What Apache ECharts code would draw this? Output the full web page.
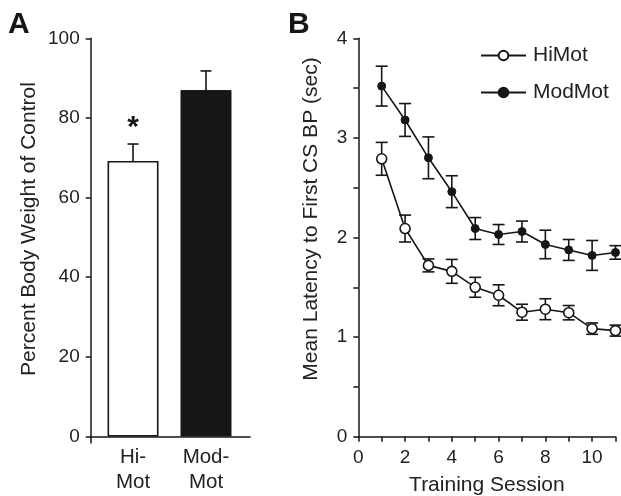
<!DOCTYPE html>
<html>
<head>
<meta charset="utf-8">
<script src="https://cdn.jsdelivr.net/npm/echarts@6/dist/echarts.min.js"></script>
<style>
  html, body { margin: 0; padding: 0; background: #fff; }
  #chart { width: 621px; height: 496px; }
</style>
</head>
<body>
<div id="chart"></div>
<script>
// Panel A: body weight as a percentage of control, mean + SEM
const groupLabels = ['Hi-\nMot', 'Mod-\nMot'];
const weightMeans = [69.2, 87.0];
const weightSem = [4.25, 4.8];
const weightMarks = ['*', ''];
const weightTicks = [0, 20, 40, 60, 80, 100];

// Panel B: latency to the first CS bar press across training sessions
const sessions = [1, 2, 3, 4, 5, 6, 7, 8, 9, 10, 11];
const hiMotLatency = [2.79, 2.09, 1.72, 1.66, 1.50, 1.42, 1.25, 1.28, 1.245, 1.085, 1.065];
const hiMotSem = [0.165, 0.135, 0.065, 0.12, 0.10, 0.105, 0.08, 0.105, 0.072, 0.057, 0.055];
const modMotLatency = [3.52, 3.18, 2.80, 2.46, 2.09, 2.03, 2.06, 1.93, 1.875, 1.82, 1.85];
const modMotSem = [0.20, 0.165, 0.21, 0.16, 0.11, 0.10, 0.105, 0.143, 0.105, 0.15, 0.068];
const sessionTicks = [0, 2, 4, 6, 8, 10];
const latencyTicks = [0, 1, 2, 3, 4];

const weightTitle = 'Percent Body Weight of Control';
const latencyTitle = 'Mean Latency to First CS BP (sec)';

const FONT = '"Liberation Sans", Arial, sans-serif';
const INK = '#161616';
const TEXT = '#222';

// Group slots on panel A's horizontal axis (one unit per group)
const groupSlots = groupLabels.map((_, i) => i);
const slotMin = -0.58;
const slotMax = 1.603;

const chart = echarts.init(document.getElementById('chart'), null, { renderer: 'canvas' });

// Upward-only error bar with cap, plus an optional significance mark (panel A)
function barError(params, api) {
  const slot = api.value(0);
  const mean = api.value(1);
  const sem = api.value(2);
  const base = api.coord([slot, mean]);
  const top = api.coord([slot, mean + sem]);
  const half = 5.5;
  const style = { stroke: INK, lineWidth: 1.6 };
  const children = [
    { type: 'line', shape: { x1: base[0], y1: base[1], x2: top[0], y2: top[1] }, style },
    { type: 'line', shape: { x1: top[0] - half, y1: top[1], x2: top[0] + half, y2: top[1] }, style }
  ];
  const mark = weightMarks[params.dataIndex];
  if (mark) {
    children.push({
      type: 'text',
      style: {
        text: mark, x: top[0], y: top[1] - 1,
        align: 'center', verticalAlign: 'bottom',
        font: 'bold 30px ' + FONT, fill: INK
      }
    });
  }
  return { type: 'group', children };
}

// Symmetric error bar with caps (panel B)
function lineError(params, api) {
  const x = api.value(0);
  const m = api.value(1);
  const e = api.value(2);
  const hi = api.coord([x, m + e]);
  const lo = api.coord([x, m - e]);
  const half = 6;
  const style = { stroke: INK, lineWidth: 1.6 };
  return {
    type: 'group',
    children: [
      { type: 'line', shape: { x1: hi[0], y1: hi[1], x2: lo[0], y2: lo[1] }, style },
      { type: 'line', shape: { x1: hi[0] - half, y1: hi[1], x2: hi[0] + half, y2: hi[1] }, style },
      { type: 'line', shape: { x1: lo[0] - half, y1: lo[1], x2: lo[0] + half, y2: lo[1] }, style }
    ]
  };
}

const axisLine = { show: true, onZero: false, lineStyle: { color: INK, width: 1.5 } };
const axisTick = { show: true, inside: false, length: 5, lineStyle: { color: INK, width: 1.5 } };
const tickLabel = { color: TEXT, fontFamily: FONT, fontSize: 19, lineHeight: 20 };
const nameStyle = { color: TEXT, fontFamily: FONT, fontSize: 21, lineHeight: 24 };

// Rotated y-axis titles
function yTitle(text, cx, cy) {
  return {
    type: 'text',
    x: cx,
    y: cy,
    rotation: Math.PI / 2,
    style: {
      text,
      align: 'center',
      verticalAlign: 'middle',
      font: '21px ' + FONT,
      fill: TEXT
    }
  };
}

const option = {
  backgroundColor: '#fff',
  animation: false,
  textStyle: { fontFamily: FONT },
  title: [
    { text: 'A', left: 8, top: 10, padding: 0, textStyle: { fontFamily: FONT, fontSize: 30, fontWeight: 'bold', color: INK } },
    { text: 'B', left: 288, top: 10, padding: 0, textStyle: { fontFamily: FONT, fontSize: 30, fontWeight: 'bold', color: INK } }
  ],
  legend: {
    data: ['HiMot', 'ModMot'],
    orient: 'vertical',
    left: 480,
    top: 45,
    padding: 0,
    itemWidth: 45,
    itemHeight: 12,
    itemGap: 16,
    textStyle: { color: TEXT, fontFamily: FONT, fontSize: 21, padding: [0, 0, 0, 2] }
  },
  graphic: [
    yTitle(weightTitle, 29, 229),
    yTitle(latencyTitle, 311, 219)
  ],
  grid: [
    { left: 90.7, right: 371, top: 38.3, bottom: 59.5, outerBoundsMode: 'none', containLabel: false },
    { left: 358.3, right: 5.5, top: 38.3, bottom: 59.3, outerBoundsMode: 'none', containLabel: false }
  ],
  xAxis: [
    {
      gridIndex: 0,
      type: 'value',
      min: slotMin,
      max: slotMax,
      axisLine,
      axisTick: { show: true, length: 7, customValues: [slotMin], lineStyle: { color: INK, width: 1.5 } },
      axisLabel: {
        color: TEXT, fontFamily: FONT, fontSize: 20.5, lineHeight: 25, margin: 8,
        customValues: groupSlots,
        formatter: (v) => groupLabels[Math.round(v)] || ''
      },
      splitLine: { show: false }
    },
    {
      gridIndex: 1,
      type: 'value',
      min: 0,
      max: 11,
      interval: 1,
      axisLine,
      axisTick,
      axisLabel: Object.assign({}, tickLabel, {
        margin: 11,
        formatter: (v) => (sessionTicks.includes(v) ? String(v) : '')
      }),
      splitLine: { show: false },
      name: 'Training Session',
      nameLocation: 'middle',
      nameGap: 37,
      nameTextStyle: nameStyle
    }
  ],
  yAxis: [
    {
      gridIndex: 0,
      type: 'value',
      min: 0,
      max: 100,
      interval: 20,
      axisLine,
      axisTick,
      axisLabel: Object.assign({}, tickLabel, {
        margin: 11,
        formatter: (v) => (weightTicks.includes(v) ? String(v) : '')
      }),
      splitLine: { show: false }
    },
    {
      gridIndex: 1,
      type: 'value',
      min: 0,
      max: 4,
      interval: 0.5,
      axisLine,
      axisTick,
      axisLabel: Object.assign({}, tickLabel, {
        margin: 11,
        formatter: (v) => (latencyTicks.includes(v) ? String(v) : '')
      }),
      splitLine: { show: false }
    }
  ],
  series: [
    {
      type: 'bar',
      xAxisIndex: 0,
      yAxisIndex: 0,
      barWidth: 51,
      z: 2,
      data: weightMeans.map((v, i) => ({
        value: [groupSlots[i], v],
        itemStyle: i === 0
          ? { color: '#fff', borderColor: INK, borderWidth: 1.6 }
          : { color: INK, borderColor: INK, borderWidth: 1 }
      }))
    },
    {
      type: 'custom',
      xAxisIndex: 0,
      yAxisIndex: 0,
      z: 3,
      renderItem: barError,
      data: weightMeans.map((v, i) => [groupSlots[i], v, weightSem[i]])
    },
    {
      type: 'custom',
      xAxisIndex: 1,
      yAxisIndex: 1,
      z: 2,
      renderItem: lineError,
      data: sessions.map((s, i) => [s, hiMotLatency[i], hiMotSem[i]])
    },
    {
      type: 'custom',
      xAxisIndex: 1,
      yAxisIndex: 1,
      z: 2,
      renderItem: lineError,
      data: sessions.map((s, i) => [s, modMotLatency[i], modMotSem[i]])
    },
    {
      name: 'HiMot',
      type: 'line',
      xAxisIndex: 1,
      yAxisIndex: 1,
      z: 4,
      symbol: 'circle',
      symbolSize: 10,
      showAllSymbol: true,
      lineStyle: { color: INK, width: 1.6 },
      itemStyle: { color: '#fff', borderColor: INK, borderWidth: 1.6 },
      emphasis: { disabled: true },
      data: sessions.map((s, i) => [s, hiMotLatency[i]])
    },
    {
      name: 'ModMot',
      type: 'line',
      xAxisIndex: 1,
      yAxisIndex: 1,
      z: 4,
      symbol: 'circle',
      symbolSize: 8,
      showAllSymbol: true,
      lineStyle: { color: INK, width: 1.6 },
      itemStyle: { color: INK, borderColor: INK, borderWidth: 1 },
      emphasis: { disabled: true },
      data: sessions.map((s, i) => [s, modMotLatency[i]])
    }
  ]
};

chart.setOption(option);
</script>
</body>
</html>
